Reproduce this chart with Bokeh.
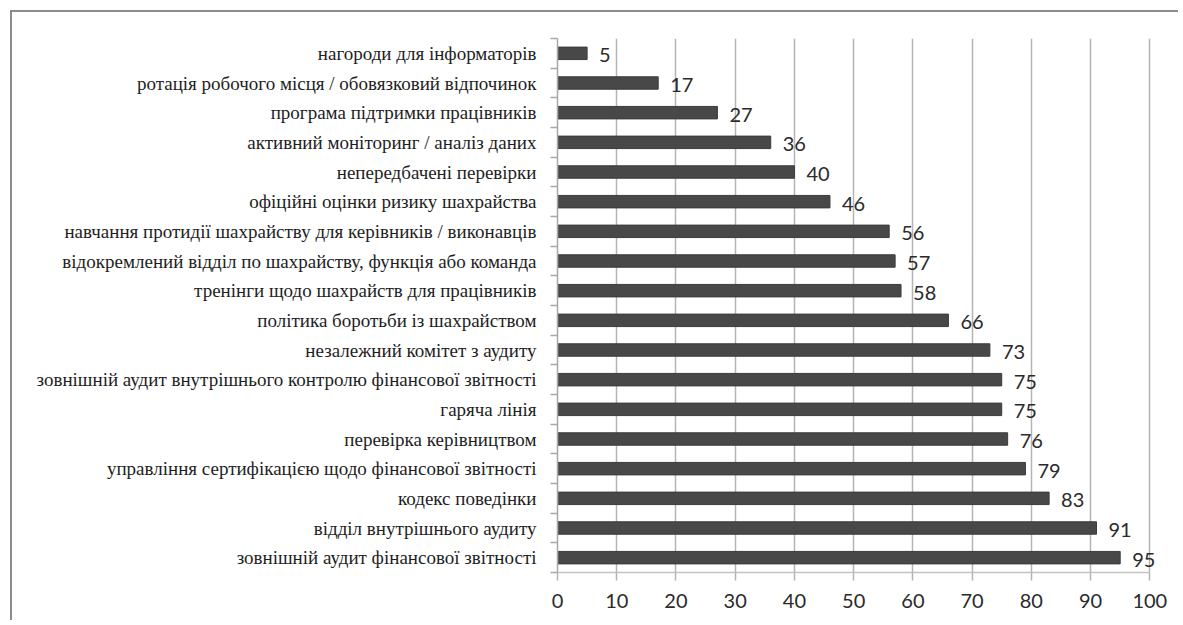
from bokeh.plotting import figure
from bokeh.models import Range1d, FixedTicker, ColumnDataSource, LabelSet
from bokeh.core.properties import value
from bokeh.embed import file_html
from bokeh.resources import INLINE

categories = [
    "нагороди для інформаторів",
    "ротація робочого місця / обовязковий відпочинок",
    "програма підтримки працівників",
    "активний моніторинг / аналіз даних",
    "непередбачені перевірки",
    "офіційні оцінки ризику шахрайства",
    "навчання протидії шахрайству для керівників / виконавців",
    "відокремлений відділ по шахрайству, функція або команда",
    "тренінги щодо шахрайств для працівників",
    "політика боротьби із шахрайством",
    "незалежний комітет з аудиту",
    "зовнішній аудит внутрішнього контролю фінансової звітності",
    "гаряча лінія",
    "перевірка керівництвом",
    "управління сертифікацією щодо фінансової звітності",
    "кодекс поведінки",
    "відділ внутрішнього аудиту",
    "зовнішній аудит фінансової звітності",
]
values = [5, 17, 27, 36, 40, 46, 56, 57, 58, 66, 73, 75, 75, 76, 79, 83, 91, 95]
x_ticks = [0, 10, 20, 30, 40, 50, 60, 70, 80, 90, 100]

n = len(categories)
ypos = [i + 0.5 for i in range(n)]
src = ColumnDataSource(dict(y=ypos, v=values, lab=[str(v) for v in values]))

p = figure(width=1168, height=610, output_backend="svg", toolbar_location=None,
           x_range=Range1d(0, 104), y_range=Range1d(n, 0),
           min_border_left=545, min_border_right=7, min_border_top=26,
           min_border_bottom=50)
p.background_fill_color = "white"
p.border_fill_color = "white"
p.outline_line_color = None
p.styles = {"border-left": "2px solid #8c8c8c", "border-top": "2px solid #8c8c8c",
            "margin-top": "10px", "margin-left": "10px"}

# bars
p.hbar(y="y", right="v", left=0, height=0.42, source=src,
       fill_color="#484848", line_color="#3c3c3c", line_width=1)

# value labels
labels = LabelSet(x="v", y="y", text="lab", source=src, x_offset=12, y_offset=-2,
                  text_font=value("Lato"), text_font_size=value("20px"),
                  text_color=value("#2a2a2a"),
                  text_align="left", text_baseline="middle")
p.add_layout(labels)

# x axis
p.xaxis.ticker = FixedTicker(ticks=x_ticks)
p.xaxis.bounds = (0, 100)
p.xaxis.axis_line_color = "#c4c4c4"
p.xaxis.axis_line_width = 1.5
p.xaxis.major_tick_line_color = "#b4b4b4"
p.xaxis.major_tick_line_width = 1.5
p.xaxis.major_tick_out = 8
p.xaxis.major_tick_in = 0
p.xaxis.minor_tick_line_color = None
p.xaxis.major_label_text_font = "Lato"
p.xaxis.major_label_text_font_size = "20px"
p.xaxis.major_label_text_color = "#2a2a2a"
p.xaxis.major_label_standoff = 13

# y axis
p.yaxis.ticker = FixedTicker(ticks=ypos, minor_ticks=list(range(n + 1)))
p.yaxis.major_label_overrides = {y: c for y, c in zip(ypos, categories)}
p.yaxis.axis_line_color = "#a8a8a8"
p.yaxis.axis_line_width = 1.5
p.yaxis.major_tick_line_color = None
p.yaxis.major_tick_out = 0
p.yaxis.major_tick_in = 0
p.yaxis.minor_tick_line_color = "#a8a8a8"
p.yaxis.minor_tick_line_width = 1.5
p.yaxis.minor_tick_out = 7
p.yaxis.minor_tick_in = 0
p.yaxis.major_label_text_font = "Liberation Serif"
p.yaxis.major_label_text_font_size = "19px"
p.yaxis.major_label_text_color = "#1e1e1e"
p.yaxis.major_label_standoff = 14

# grid
p.xgrid.ticker = FixedTicker(ticks=x_ticks)
p.xgrid.grid_line_color = "#b4b4b4"
p.xgrid.grid_line_width = 1.5
p.ygrid.grid_line_color = None

open("out.html", "w").write(file_html(p, INLINE))
